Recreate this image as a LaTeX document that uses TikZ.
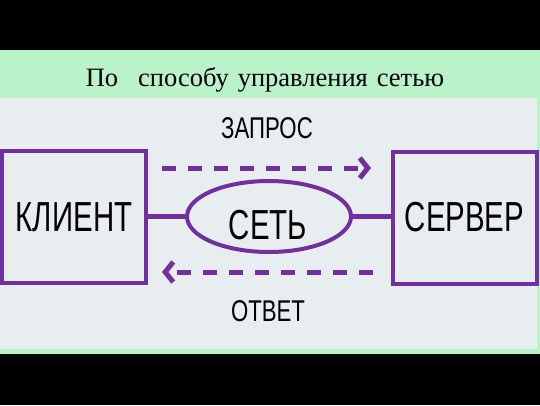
\documentclass[tikz,border=0pt]{standalone}
\usepackage{fontspec}
\setmainfont{Liberation Serif}
\newfontfamily\narrowsans[FakeStretch=0.7]{Liberation Sans}
\newfontfamily\labelsans[FakeStretch=0.74]{Liberation Sans}
\usetikzlibrary{arrows.meta}
\usetikzlibrary{shapes.geometric}
\usetikzlibrary{positioning}
\definecolor{netpurple}{rgb}{0.44,0.19,0.63}
\definecolor{bandgreen}{rgb}{0.73,0.95,0.79}
\definecolor{panelgray}{rgb}{0.91,0.93,0.94}

\begin{document}
\begin{tikzpicture}[x=1pt,y=-1pt,
    box/.style={draw=netpurple, line width=4pt, minimum width=144pt, minimum height=132pt, inner sep=0pt},
    link/.style={draw=netpurple, line width=5pt},
    msg/.style={draw=netpurple, line width=5pt, dash pattern=on 14pt off 12pt, -{Straight Barb[length=8pt,width=20pt]}},
    bigtext/.style={font=\narrowsans\fontsize{42}{42}\selectfont},
    smalltext/.style={font=\labelsans\fontsize{30}{30}\selectfont}]

  % background
  \fill[black] (0,0) rectangle (540,405);
  \useasboundingbox (0,0) rectangle (540,405);
  \fill[bandgreen] (0,50) rectangle (540,354);
  \fill[panelgray] (0,98) rectangle (537,349);

  % title
  \node[anchor=base] (title) at (265,86) {\fontsize{26.5}{26.5}\selectfont По\hspace{20pt}способу\hspace{9pt}управления\hspace{9pt}сетью};

  % client and server
  \node[box] (client) at (74,217) {};
  \node[bigtext] at (client) {КЛИЕНТ};
  \node[box] (server) at (464.5,217.5) {};
  \node[bigtext] at (server) {СЕРВЕР};

  % network
  \node[draw=netpurple, line width=4pt, ellipse, minimum width=164pt, minimum height=71pt, inner sep=0pt] (net) at (269,216.5) {};
  \node[bigtext] at (268,225) {СЕТЬ};
  \draw[link] (client.east |- net.west) -- (net.west);
  \draw[link] (net.east) -- (server.west |- net.east);

  % request / reply
  \coordinate (reqStart) at (162,168);
  \coordinate (reqEnd) at (371,168);
  \coordinate (repStart) at (373,272);
  \coordinate (repEnd) at (162,272);
  \draw[msg] (reqStart) -- (reqEnd);
  \draw[msg] (repStart) -- (repEnd);
  \node[smalltext] (request) at (267,128) {ЗАПРОС};
  \node[smalltext] (reply) at (268,311) {ОТВЕТ};

\end{tikzpicture}
\end{document}
